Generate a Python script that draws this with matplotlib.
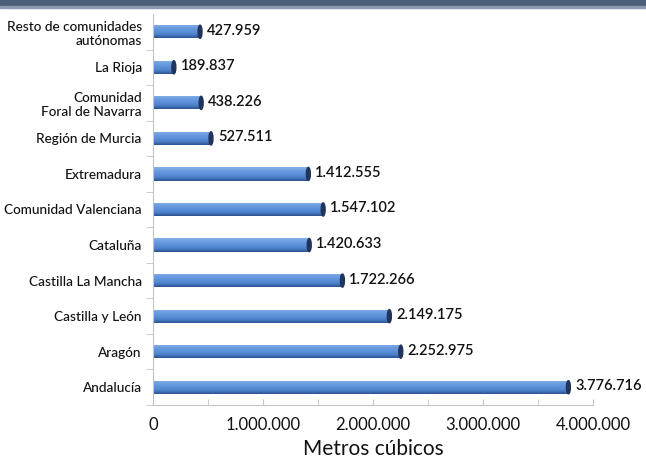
import matplotlib.pyplot as plt
import numpy as np
from matplotlib.colors import LinearSegmentedColormap
from matplotlib.patches import Ellipse, Rectangle
from matplotlib.ticker import FuncFormatter, MultipleLocator

# datos (de abajo hacia arriba)
regiones = ['Andalucía', 'Aragón', 'Castilla y León', 'Castilla La Mancha',
            'Cataluña', 'Comunidad Valenciana', 'Extremadura',
            'Región de Murcia', 'Comunidad\nForal de Navarra', 'La Rioja',
            'Resto de comunidades\nautónomas']
metros = [3776716, 2252975, 2149175, 1722266, 1420633, 1547102, 1412555,
          527511, 438226, 189837, 427959]

plt.rcParams['font.family'] = ['Lato', 'DejaVu Sans']


def miles(v, pos=None):
    return f'{v:,.0f}'.replace(',', '.')


fig = plt.figure(figsize=(6.46, 4.63), dpi=100)
ax = fig.add_axes([0.2368, 0.1253, 0.6811, 0.8445])

# franja de cabecera
fig.patches.append(Rectangle((0, 0.986), 1, 0.014, transform=fig.transFigure,
                             color='#4b5f78', zorder=5))
fig.patches.append(Rectangle((0, 0.983), 1, 0.004, transform=fig.transFigure,
                             color='#8a9bb0', zorder=5))

cmap = LinearSegmentedColormap.from_list(
    'cil', ['#2c5190', '#4c80c9', '#5c90d8', '#6a9de0', '#86b0e6'])
grad = np.linspace(0, 1, 64).reshape(-1, 1)

y = np.arange(len(regiones))
h = 0.37
bars = ax.barh(y, metros, height=h, color='none', edgecolor='none')
for b, v, yi in zip(bars, metros, y):
    im = ax.imshow(grad, cmap=cmap, aspect='auto', origin='lower',
                   extent=(0, v, yi - h / 2, yi + h / 2), zorder=2)
    im.set_clip_path(b)
    ax.add_patch(Ellipse((v, yi), width=36000, height=h, color='#1e3561',
                         zorder=3))
    ax.annotate(miles(v), (v, yi), xytext=(7, 1), textcoords='offset pixels',
                va='center', ha='left', fontsize=10.5, color='#111111',
                fontweight='semibold')

ax.set_xlim(0, 4000000)
ax.set_ylim(-0.5, len(regiones) - 0.5)

ax.xaxis.set_major_locator(MultipleLocator(1000000))
ax.xaxis.set_minor_locator(MultipleLocator(500000))
ax.xaxis.set_major_formatter(FuncFormatter(miles))
ax.tick_params(axis='x', which='both', direction='in', length=4,
               color='#c4c4c4', labelsize=12, pad=9, labelcolor='#111111')

ax.set_yticks(y)
ax.set_yticklabels(regiones, ha='right', multialignment='right',
                   fontweight='medium')
ax.set_yticks(np.arange(len(regiones)) - 0.5, minor=True)
ax.tick_params(axis='y', which='major', length=0, pad=8, labelsize=9.8,
               labelcolor='#111111')
ax.tick_params(axis='y', which='minor', length=5, color='#c4c4c4')

for pos in ['top', 'right']:
    ax.spines[pos].set_visible(False)
for pos in ['left', 'bottom']:
    ax.spines[pos].set_color('#c4c4c4')

ax.set_xlabel('Metros cúbicos', fontsize=15, color='#111111', labelpad=4)

fig.savefig('out.png', dpi=100)
